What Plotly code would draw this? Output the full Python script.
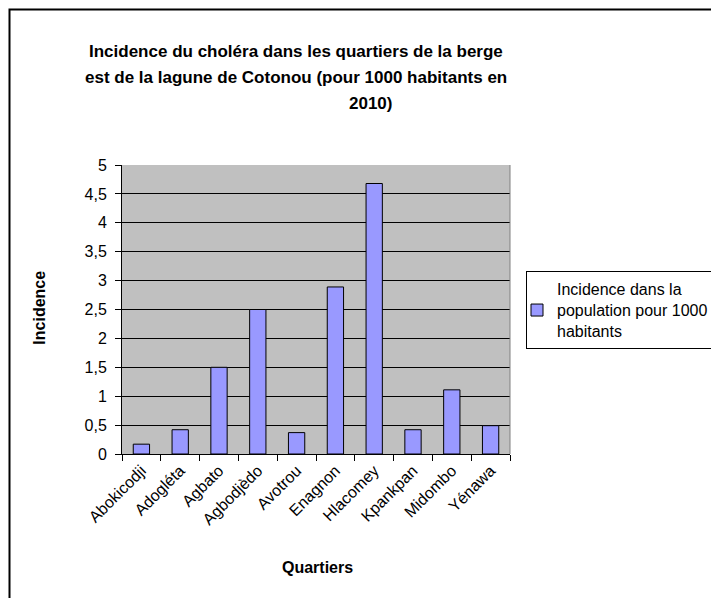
import plotly.graph_objects as go

categories = ["Abokicodji", "Adogléta", "Agbato", "Agbodjèdo", "Avotrou",
              "Enagnon", "Hlacomey", "Kpankpan", "Midombo", "Yénawa"]
incidence = [0.17, 0.42, 1.5, 2.5, 0.37, 2.89, 4.68, 0.42, 1.11, 0.49]
series_name = "Incidence dans la<br>population pour 1000<br>habitants"
y_ticks = [0, 0.5, 1, 1.5, 2, 2.5, 3, 3.5, 4, 4.5, 5]

FONT = "Arial, 'Liberation Sans', sans-serif"

# pixel layout helpers (screen coordinates; page body has an 8px margin)
W, H = 719, 598
OFF = 8
PL, PR, PT, PB = 122, 510, 165.4, 454.3
def px(x):
    return (x - PL) / (PR - PL)
def py(y):
    return (PB - y) / (PB - PT)

fig = go.Figure()
fig.add_trace(go.Bar(
    x=categories, y=incidence, name=series_name,
    marker=dict(color="#9999FF", line=dict(color="black", width=1)),
    width=0.42, showlegend=True,
))

fig.update_layout(
    width=W, height=H,
    margin=dict(l=PL - OFF, r=W - (PR - OFF), t=PT - OFF, b=H - (PB - OFF), pad=0),
    paper_bgcolor="white", plot_bgcolor="#C0C0C0",
    separators=", ",
    font=dict(family=FONT, size=16, color="black"),
    showlegend=True,
    legend=dict(x=px(526), y=py(271.7), xanchor="left", yanchor="top",
                bordercolor="black", borderwidth=1, bgcolor="white",
                font=dict(family=FONT, size=16, color="black"),
                itemwidth=30, tracegroupgap=0, indentation=-10),
    xaxis=dict(type="category", showline=True, linecolor="black", linewidth=1,
               ticks="outside", ticklen=6, tickcolor="black", tickson="boundaries",
               tickangle=-45, tickfont=dict(family=FONT, size=16, color="black"),
               showgrid=False, fixedrange=True),
    yaxis=dict(range=[0, 5], tickvals=y_ticks, showline=True, linecolor="black",
               linewidth=1, ticks="outside", ticklen=6, tickcolor="black",
               showgrid=True, gridcolor="black", gridwidth=1, zeroline=False,
               tickfont=dict(family=FONT, size=16, color="black"),
               ticklabelstandoff=5, fixedrange=True),
)

title_lines = [
    ("Incidence du choléra dans les quartiers de la berge", 296, 52),
    ("est de la lagune de Cotonou (pour 1000 habitants en", 296, 78),
    ("2010)", 370, 104),
]
for text, cx, cy in title_lines:
    fig.add_annotation(text="<b>" + text + "</b>", x=px(cx), y=py(cy), xref="paper", yref="paper",
                       showarrow=False, xanchor="center", yanchor="middle",
                       font=dict(family=FONT, size=17, color="black"))

fig.add_annotation(text="<b>Incidence</b>", x=px(40), y=py(308), xref="paper", yref="paper",
                   showarrow=False, textangle=-90, xanchor="center", yanchor="middle",
                   font=dict(family=FONT, size=16, color="black"))
fig.add_annotation(text="<b>Quartiers</b>", x=px(317), y=py(568), xref="paper", yref="paper",
                   showarrow=False, xanchor="center", yanchor="middle",
                   font=dict(family=FONT, size=16, color="black"))

# chart area border
fig.add_shape(type="rect", xref="paper", yref="paper",
              x0=px(9.5), x1=px(W + 20), y0=py(10), y1=py(H + 20),
              line=dict(color="black", width=2), fillcolor="rgba(0,0,0,0)", layer="below")
# plot area right border
fig.add_shape(type="line", xref="paper", yref="paper", x0=1, x1=1, y0=0, y1=1,
              line=dict(color="#808080", width=1))

fig.write_html("out.html")
